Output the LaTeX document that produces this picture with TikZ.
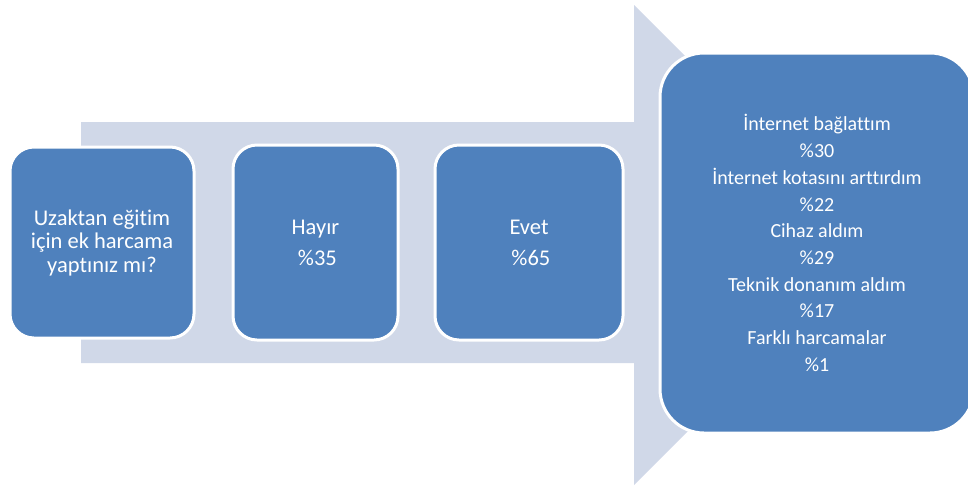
\documentclass[tikz,border=0pt]{standalone}
\usepackage{fontspec}
\setmainfont{Carlito}[Ligatures=NoCommon]
\definecolor{boxblue}{HTML}{4F81BD}
\definecolor{arrowgray}{HTML}{D0D8E8}
\begin{document}
\begin{tikzpicture}[x=1pt, y=-1pt,
  stepbox/.style={rectangle, rounded corners=24pt, fill=boxblue, draw=white,
    line width=3pt, text=white, align=center, inner sep=0pt},
  bigfont/.style={font=\fontsize{22.5}{23.5}\selectfont}]
\useasboundingbox (0,0) rectangle (968,488);
\clip (0,0) rectangle (968,488);
% big arrow behind the boxes
\fill[arrowgray] (81,122) -- (634,122) -- (634,5) -- (874,245) -- (634,485) -- (634,363) -- (81,363) -- cycle;
\node[stepbox, bigfont, minimum width=184pt, minimum height=191pt] (soru) at (102,242.5)
  {Uzaktan eğitim\\için ek harcama\\yaptınız mı?};
\node[stepbox, bigfont, minimum width=165pt, minimum height=195pt] (hayir) at (315.5,242.5)
  {Hayır\\[7.5pt]\,\%35};
\node[stepbox, bigfont, minimum width=188pt, minimum height=195pt] (evet) at (529,242.5)
  {Evet\\[7.5pt]\,\%65};
\node[stepbox, rounded corners=44pt, font=\fontsize{20}{26.7}\selectfont,
  minimum width=314pt, minimum height=380pt] (harcama) at (817,243)
  {İnternet bağlattım\\\%30\\İnternet kotasını arttırdım\\\%22\\Cihaz aldım\\\%29\\Teknik donanım aldım\\\%17\\Farklı harcamalar\\\%1};
\end{tikzpicture}
\end{document}
